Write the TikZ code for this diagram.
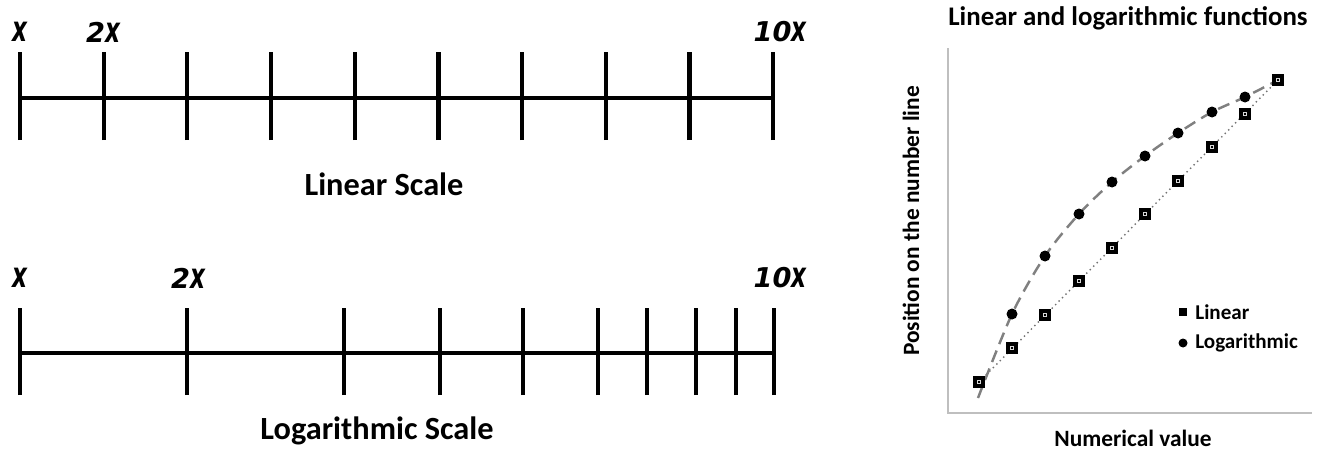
\documentclass[tikz,border=0pt]{standalone}
\usepackage{fontspec}
\setmainfont{Carlito}
\newfontfamily\tickfont{DejaVu Sans}
\newcommand\tallx{\scalebox{0.85}[1.3]{x}}

\tikzset{
  sqmark/.pic={\fill (-6,-6) rectangle (6,6);
    \fill[black!15] (-2.3,-2.3) rectangle (2.3,2.3);
    \fill (-1.3,-1.3) rectangle (1.3,1.3);},
  dotmark/.pic={\fill (0,0) circle (5.5);}
}

\begin{document}
\begin{tikzpicture}[x=0.02cm,y=0.02cm,
  numline/.style={line width=2.4pt},
  tickval/.style={inner sep=0pt,font=\tickfont\bfseries\itshape\fontsize{15.5}{18}\selectfont},
  scalename/.style={inner sep=0pt,font=\bfseries\fontsize{18.4}{22}\selectfont},
  chartaxis/.style={black!25,line width=0.9pt},
  axislabel/.style={inner sep=0pt,font=\bfseries\fontsize{13.3}{16}\selectfont},
  legendtext/.style={inner sep=0pt,anchor=west,font=\bfseries\fontsize{12}{14}\selectfont}]
\useasboundingbox (0,0) rectangle (1318,451);
\begin{scope}[shift={(0,353)}]
\draw[numline] (20,0) -- (773,0);
\draw[numline] (20,-42) -- (20,46);
\draw[numline] (103.7,-42) -- (103.7,46);
\draw[numline] (187.3,-42) -- (187.3,46);
\draw[numline] (271,-42) -- (271,46);
\draw[numline] (354.8,-42) -- (354.8,46);
\draw[numline] (438.5,-42) -- (438.5,46);
\draw[numline] (522.2,-42) -- (522.2,46);
\draw[numline] (605.9,-42) -- (605.9,46);
\draw[numline] (689.5,-42) -- (689.5,46);
\draw[numline] (773,-42) -- (773,46);
\node[tickval] (linx) at (20,66) {\tallx};
\node[tickval] (lin2x) at (103,66) {2\tallx};
\node[tickval] (lin10x) at (780,66) {10\tallx};
\node[scalename] (linname) at (384,-86) {Linear Scale};
\end{scope}
\begin{scope}[shift={(0,98)}]
\draw[numline] (20,0) -- (774,0);
\draw[numline] (20,-42) -- (20,45);
\draw[numline] (187,-42) -- (187,45);
\draw[numline] (344,-42) -- (344,45);
\draw[numline] (440,-42) -- (440,45);
\draw[numline] (523,-42) -- (523,45);
\draw[numline] (598,-42) -- (598,45);
\draw[numline] (647,-42) -- (647,45);
\draw[numline] (696,-42) -- (696,45);
\draw[numline] (736,-42) -- (736,45);
\draw[numline] (774,-42) -- (774,45);
\node[tickval] (logx) at (20,75) {\tallx};
\node[tickval] (log2x) at (188,75) {2\tallx};
\node[tickval] (log10x) at (780,75) {10\tallx};
\node[scalename] (logname) at (377,-78) {Logarithmic Scale};
\end{scope}
\begin{scope}[shift={(948,38)}]
\draw[chartaxis] (0,365) -- (0,0) -- (364,0);
\node[font=\bfseries\fontsize{15.3}{18}\selectfont,inner sep=0pt] (title) at (180,395) {Linear and logarithmic functions};
\node[axislabel,rotate=90] (ylab) at (-37,192) {Position on the number line};
\node[axislabel] (xlab) at (185,-25) {Numerical value};
\coordinate (lin0) at (31,31);
\coordinate (lin9) at (330,333);
\draw[black!55,line width=0.8pt,dotted] (lin0) -- (lin9);
\draw[black!50,line width=1.4pt,dash pattern=on 7pt off 4pt] plot[smooth] coordinates {(30,15) (64,99) (97,157) (131,199) (164,231) (197,257) (230,280) (264,301) (297,316) (330,333)};
\pic at (31,31) {sqmark};
\pic at (64,65) {sqmark};
\pic at (97,98) {sqmark};
\pic at (131,132) {sqmark};
\pic at (164,165) {sqmark};
\pic at (197,199) {sqmark};
\pic at (230,232) {sqmark};
\pic at (264,266) {sqmark};
\pic at (297,299) {sqmark};
\pic at (330,333) {sqmark};
\pic at (64,99) {dotmark};
\pic at (97,157) {dotmark};
\pic at (131,199) {dotmark};
\pic at (164,231) {dotmark};
\pic at (197,257) {dotmark};
\pic at (230,280) {dotmark};
\pic at (264,301) {dotmark};
\pic at (297,316) {dotmark};
\fill (231,97) rectangle (239,105);
\node[legendtext] (leglin) at (247,101) {Linear};
\fill (235,70) circle (4.5);
\node[legendtext] (leglog) at (247,70) {Logarithmic};
\end{scope}
\end{tikzpicture}
\end{document}
